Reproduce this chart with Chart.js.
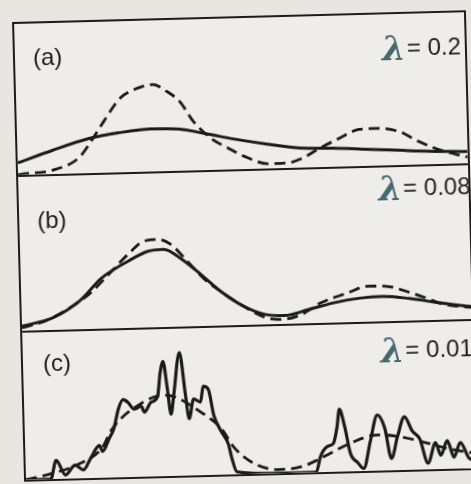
<!DOCTYPE html>
<html>
<head>
<meta charset="utf-8">
<script src="https://cdn.jsdelivr.net/npm/chart.js@4.4.1/dist/chart.umd.min.js"></script>
<style>
    body {
        margin: 0;
        width: 471px;
        height: 484px;
        overflow: hidden;
        position: relative;
        background: #e8e6e1;
        font-family: "Liberation Sans", Arial, sans-serif;
    }
    #fig {
        position: absolute;
        left: 17.5px;
        top: 16px;
        width: 454px;
        height: 460px;
        box-sizing: border-box;
        border: 2px solid #1c1c1c;
        background: #eeede9;
        transform: rotate(-1.5deg);
    }
    .panel { position: relative; width: 450px; }
    .panel + .panel { border-top: 2px solid #1c1c1c; }
    .panel canvas { display: block; }
    .tag, .par {
        position: absolute;
        font-size: 24px;
        color: #1e1e1e;
        line-height: 1;
        display: flex;
        align-items: center;
        white-space: nowrap;
    }
    .par .sym {
        font-family: "DejaVu Serif", serif;
        font-style: italic;
        font-weight: bold;
        font-size: 34px;
        color: #46686e;
        margin-right: 1px;
    }
</style>
</head>
<body>
<div id="fig">
    <div class="panel" style="height:151px">
        <canvas id="chartA" width="450" height="151"></canvas>
        <span class="tag" style="left:18px; top:22px">(a)</span>
        <span class="par" style="right:4px; top:17px"><span class="sym">λ</span>= 0.2</span>
    </div>
    <div class="panel" style="height:154px">
        <canvas id="chartB" width="450" height="154"></canvas>
        <span class="tag" style="left:18px; top:32px">(b)</span>
        <span class="par" style="right:-2px; top:4px"><span class="sym">λ</span>= 0.08</span>
    </div>
    <div class="panel" style="height:147px">
        <canvas id="chartC" width="450" height="147"></canvas>
        <span class="tag" style="left:20px; top:19px">(c)</span>
        <span class="par" style="right:0px; top:10px"><span class="sym">λ</span>= 0.01</span>
    </div>
</div>
<script>
// positions along the axis (0..100) and heights (fraction of panel)
// panel (a)
const uTrueA = [0, 1.1, 7.7, 13.7, 16.5, 19.4, 23.1, 26.9, 30.4, 33.5, 36.3, 39.2, 43, 46.7, 51.1, 55.5, 59.9, 63.4, 67.2, 71.6, 76, 79.7, 84.8, 89.2, 92.9, 97.4, 100];
const vTrueA = [0, 0.005, 0.025, 0.105, 0.214, 0.342, 0.49, 0.552, 0.575, 0.527, 0.459, 0.326, 0.211, 0.143, 0.074, 0.031, 0.033, 0.063, 0.125, 0.187, 0.242, 0.246, 0.222, 0.152, 0.103, 0.061, 0.04];
const uFitA = [0, 7.7, 15.9, 22.5, 29.7, 35.7, 42.3, 48, 55.5, 62.8, 70, 77.5, 84.8, 92, 100];
const vFitA = [0.08, 0.156, 0.228, 0.261, 0.281, 0.276, 0.238, 0.201, 0.161, 0.129, 0.123, 0.11, 0.097, 0.085, 0.078];

// panel (b)
const uTrueB = [0, 5.5, 10.8, 15.2, 20.3, 24, 27.5, 30.6, 33.5, 37.2, 40.7, 44.5, 48.9, 54, 57.7, 62.1, 66.5, 72.5, 76.9, 81.3, 85.7, 89.2, 93.6, 98.9, 100];
const vTrueB = [0.02, 0.064, 0.143, 0.23, 0.374, 0.48, 0.561, 0.571, 0.536, 0.421, 0.307, 0.219, 0.13, 0.047, 0.03, 0.058, 0.131, 0.19, 0.231, 0.227, 0.19, 0.153, 0.103, 0.079, 0.077];
const uFitB = [0, 7.1, 13, 18, 24, 28.4, 31.9, 35.7, 40.1, 44.5, 48.9, 54, 58.4, 63.7, 69.4, 75.3, 80.4, 86.3, 91.4, 98.9, 100];
const vFitB = [0.03, 0.082, 0.186, 0.33, 0.435, 0.495, 0.505, 0.442, 0.334, 0.219, 0.13, 0.066, 0.055, 0.089, 0.129, 0.155, 0.162, 0.144, 0.119, 0.085, 0.083];

// panel (c)
const uTrueC = [0, 6, 12, 17, 19.4, 26.4, 31, 33.3, 39.2, 43.6, 46.5, 50.9, 56.2, 61.2, 65, 72.2, 78.2, 83.3, 89.2, 94.3, 100];
const vTrueC = [0, 0.04, 0.1, 0.2, 0.33, 0.506, 0.55, 0.54, 0.43, 0.317, 0.18, 0.068, 0.025, 0.04, 0.085, 0.19, 0.243, 0.226, 0.18, 0.134, 0.1];
const uFitC = [0, 5.5, 6.8, 8.8, 11, 12.8, 14.5, 16.5, 17.2, 18.7, 19.8, 20.9, 22, 23.1, 24.4, 26, 26.7, 28.2, 29.7, 30.4,
    31.1, 31.9, 32.6, 33.3, 34.8, 35.9, 36.6, 37.7, 39.2, 39.9, 41, 42.1, 43.6, 45.2, 45.8, 46.9, 55, 64.5, 65.6, 67.2,
    68.5, 69.4, 70, 71.1, 72.2, 73.8, 75.1, 76.7, 78.4, 80, 81.3, 82.8, 84.4, 86.1, 87.7, 89.4, 91.2, 92.3, 93.8, 95.2,
    96.7, 98.5, 100];
const vFitC = [0, 0, 0.127, 0.026, 0.091, 0.057, 0.136, 0.22, 0.18, 0.266, 0.331, 0.463, 0.528, 0.508, 0.461, 0.48, 0.44, 0.505, 0.544, 0.702,
    0.78, 0.6, 0.42, 0.55, 0.838, 0.55, 0.387, 0.519, 0.498, 0.604, 0.583, 0.404, 0.297, 0.203, 0.117, 0.017, 0, 0, 0.109, 0.174,
    0.193, 0.305, 0.424, 0.304, 0.124, 0.058, 0.017, 0.2, 0.379, 0.286, 0.08, 0.231, 0.362, 0.262, 0.208, 0.042, 0.179, 0.093, 0.191, 0.078,
    0.176, 0.07, 0.05];

const ink = '#1b1b1b';

function toPoints(xs, ys) {
    return xs.map((x, i) => ({ x: x, y: ys[i] }));
}

function makePanel(id, uTrue, vTrue, uFit, vFit, fitWidth) {
    const ctx = document.getElementById(id).getContext('2d');
    return new Chart(ctx, {
        type: 'line',
        data: {
            datasets: [
                {
                    label: 'true',
                    data: toPoints(uTrue, vTrue),
                    borderColor: ink,
                    borderWidth: 2.8,
                    borderDash: [11, 6],
                    cubicInterpolationMode: 'monotone',
                    pointRadius: 0,
                    fill: false,
                    clip: false
                },
                {
                    label: 'estimate',
                    data: toPoints(uFit, vFit),
                    borderColor: ink,
                    borderWidth: fitWidth,
                    cubicInterpolationMode: 'monotone',
                    pointRadius: 0,
                    fill: false,
                    clip: false
                }
            ]
        },
        options: {
            responsive: false,
            animation: false,
            layout: { padding: 0 },
            plugins: {
                legend: { display: false },
                tooltip: { enabled: false }
            },
            scales: {
                x: { type: 'linear', min: 0, max: 100, display: false },
                y: { min: 0, max: 1, display: false }
            }
        }
    });
}

makePanel('chartA', uTrueA, vTrueA, uFitA, vFitA, 3);
makePanel('chartB', uTrueB, vTrueB, uFitB, vFitB, 3);
makePanel('chartC', uTrueC, vTrueC, uFitC, vFitC, 3.2);
</script>
</body>
</html>
